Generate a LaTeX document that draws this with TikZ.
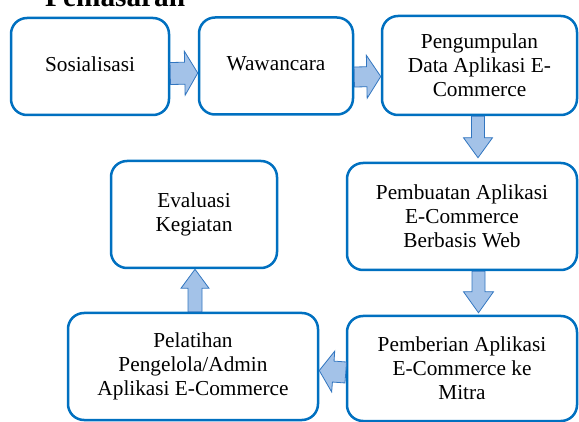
\documentclass[tikz,border=0pt]{standalone}
\usepackage{fontspec}
\setmainfont{Liberation Serif}
\usetikzlibrary{calc}
\definecolor{boxline}{HTML}{0070C0}
\definecolor{arrowfill}{HTML}{A3C2E8}
\definecolor{arrowline}{HTML}{3276C0}

\begin{document}
\begin{tikzpicture}[x=1pt,y=-1pt]
\tikzstyle{stage} =[rectangle,rounded corners=16pt,draw=boxline,line width=2.5pt,fill=white,align=center,font=\fontsize{21.3}{24}\selectfont]
\tikzset{fat/.style n args={3}{draw=arrowline,fill=arrowfill,line width=0.8pt,line join=miter,
  to path={let \p1=(\tikztostart),\p2=(\tikztotarget),
    \n1={atan2(\y2-\y1,\x2-\x1)},\n2={veclen(\x2-\x1,\y2-\y1)} in
    ([shift={(\p1)},rotate=\n1]0pt,#1) -- ([shift={(\p1)},rotate=\n1]{\n2-#3},#1)
    -- ([shift={(\p1)},rotate=\n1]{\n2-#3},#2) -- ([shift={(\p1)},rotate=\n1]{\n2},0pt)
    -- ([shift={(\p1)},rotate=\n1]{\n2-#3},-#2) -- ([shift={(\p1)},rotate=\n1]{\n2-#3},-#1)
    -- ([shift={(\p1)},rotate=\n1]0pt,-#1) -- cycle}}}
\useasboundingbox (0,0) rectangle (579,422);

\node[font=\bfseries\fontsize{29.3}{32}\selectfont,anchor=base west,inner sep=0pt](title) at (45,7){Pemasaran};

\node[stage,minimum width=158pt,minimum height=97pt](sos) at (90,66.5){\raisebox{4pt}{Sosialisasi}};
\node[stage,minimum width=154pt,minimum height=97pt](waw) at (276,66){\raisebox{4pt}{Wawancara}};
\node[stage,minimum width=195pt,minimum height=99pt](peng) at (479.5,65.5){Pengumpulan\\Data Aplikasi E-\\Commerce};
\node[stage,minimum width=230pt,minimum height=107pt](pemb) at (462,216.5){Pembuatan Aplikasi\\E-Commerce\\Berbasis Web};
\node[stage,minimum width=166pt,minimum height=107pt](eval) at (194,214.5){Evaluasi\\Kegiatan};
\node[stage,minimum width=250pt,minimum height=107pt](pel) at (193,366.5){Pelatihan\\Pengelola/Admin\\Aplikasi E-Commerce};
\node[stage,minimum width=230pt,minimum height=105pt](pemr) at (462,368.5){Pemberian Aplikasi\\E-Commerce ke\\Mitra};

\draw[fat={11pt}{22pt}{13pt}] ([yshift=-7pt]sos.east) to ([yshift=-7pt]waw.west);
\draw[fat={10pt}{21.5pt}{14pt}] ([yshift=-11pt]waw.east) to ([yshift=-11pt]peng.west);
\draw[fat={6.5pt}{14.5pt}{20pt}] ([xshift=-1.5pt]peng.south) to ([xshift=16pt,yshift=4pt]pemb.north);
\draw[fat={6.5pt}{15pt}{21pt}] ([xshift=16.5pt]pemb.south) to ([xshift=16.5pt,yshift=2pt]pemr.north);
\draw[fat={10.5pt}{20.5pt}{14pt}] ([yshift=-4pt]pemr.west) to ([yshift=-4pt]pel.east);
\draw[fat={7pt}{14pt}{19pt}] ([xshift=2pt]pel.north) to ([xshift=1pt]eval.south);
\end{tikzpicture}
\end{document}
